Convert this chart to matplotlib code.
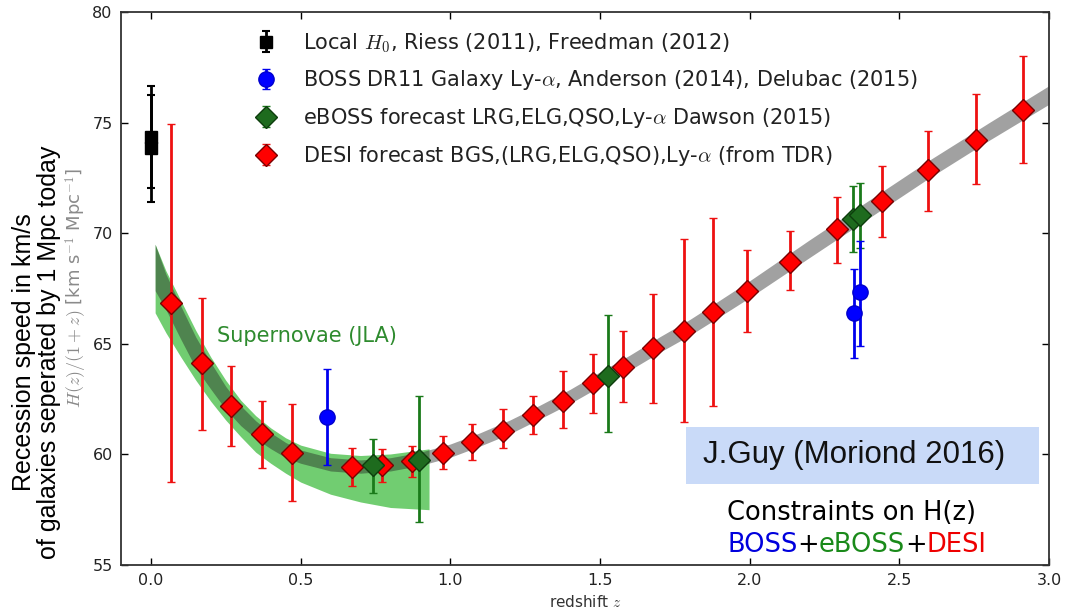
import numpy as np
import matplotlib
matplotlib.use('Agg')
import matplotlib.pyplot as plt
from matplotlib.patches import Rectangle

plt.rcParams['mathtext.fontset'] = 'cm'
plt.rcParams['font.family'] = ['DejaVu Sans']

# --- data ---
# local H0 (Riess 2011, Freedman 2012)
h0_z = [0.0, 0.0]
h0_val = [73.83, 74.37]
h0_lo = [71.4, 72.05]
h0_hi = [76.25, 76.65]

# BOSS DR11
boss_z = [0.589, 2.35, 2.37]
boss_val = [61.7, 66.38, 67.33]
boss_lo = [59.5, 64.37, 64.92]
boss_hi = [63.85, 68.37, 69.65]

# eBOSS forecast
eboss_z = [0.741, 0.897, 1.528, 2.346, 2.368]
eboss_val = [59.5, 59.75, 63.54, 70.65, 70.82]
eboss_lo = [58.24, 56.96, 61.0, 69.17, 69.35]
eboss_hi = [60.7, 62.64, 66.3, 72.13, 72.28]

# DESI forecast
desi_z = [0.067, 0.170, 0.268, 0.370, 0.470, 0.673, 0.773, 0.871, 0.975, 1.074,
          1.175, 1.277, 1.376, 1.476, 1.578, 1.678, 1.781, 1.879, 1.990, 2.135,
          2.291, 2.441, 2.597, 2.755, 2.914]
desi_val = [66.85, 64.15, 62.2, 60.9, 60.05, 59.45, 59.5, 59.72, 60.06, 60.55,
            61.08, 61.78, 62.43, 63.24, 63.97, 64.8, 65.58, 66.42, 67.38, 68.71,
            70.17, 71.44, 72.86, 74.21, 75.57]
desi_lo = [58.77, 61.1, 60.4, 59.4, 57.9, 58.55, 58.74, 58.99, 59.34, 59.75,
           60.3, 60.9, 61.2, 61.86, 62.39, 62.33, 61.48, 62.19, 65.52, 67.43,
           68.66, 69.82, 71.02, 72.21, 73.19]
desi_hi = [74.94, 67.08, 64.0, 62.4, 62.3, 60.3, 60.25, 60.4, 60.83, 61.37,
           62.04, 62.63, 63.77, 64.54, 65.58, 67.25, 69.74, 70.67, 69.24, 70.11,
           71.62, 73.06, 74.64, 76.28, 78.01]

# LCDM band (grey)
band_z = [0.014, 0.05, 0.1, 0.15, 0.2, 0.25, 0.3, 0.35, 0.4, 0.45, 0.5, 0.6, 0.7,
          0.8, 0.9, 1.0, 1.1, 1.2, 1.3, 1.4, 1.5, 1.6, 1.7, 1.8, 1.9, 2.0, 2.2,
          2.4, 2.6, 2.8, 3.0]
band_lo = [67.4, 66.55, 65.2, 63.9, 62.95, 62.03, 61.3, 60.72, 60.26, 59.86, 59.6,
           59.25, 59.15, 59.25, 59.5, 59.87, 60.38, 60.94, 61.61, 62.3, 63.07,
           63.81, 64.62, 65.38, 66.23, 67.09, 68.9, 70.7, 72.5, 74.2, 75.83]
band_hi = [69.5, 68.15, 66.7, 65.3, 64.15, 63.07, 62.2, 61.52, 60.98, 60.54, 60.2,
           59.85, 59.75, 59.85, 60.1, 60.47, 60.98, 61.56, 62.23, 62.94, 63.73,
           64.49, 65.32, 66.1, 66.97, 67.85, 69.7, 71.5, 73.3, 75.0, 76.67]

# supernovae (JLA) band
sn_z = [0.014, 0.05, 0.1, 0.15, 0.2, 0.25, 0.3, 0.35, 0.4, 0.45, 0.5, 0.6, 0.7,
        0.8, 0.929]
sn_lo = [66.4, 65.5, 64.4, 63.35, 62.4, 61.55, 60.8, 60.1, 59.6, 59.15, 58.75,
         58.2, 57.85, 57.6, 57.5]
sn_hi = [69.5, 68.3, 66.95, 65.6, 64.4, 63.35, 62.45, 61.75, 61.2, 60.75, 60.42,
         60.05, 59.95, 60.02, 60.25]

labels = ['Local $H_0$, Riess (2011), Freedman (2012)',
          r'BOSS DR11 Galaxy Ly-$\alpha$, Anderson (2014), Delubac (2015)',
          r'eBOSS forecast LRG,ELG,QSO,Ly-$\alpha$ Dawson (2015)',
          r'DESI forecast BGS,(LRG,ELG,QSO),Ly-$\alpha$ (from TDR)']

x_ticks = [0.0, 0.5, 1.0, 1.5, 2.0, 2.5, 3.0]
y_ticks = [55, 60, 65, 70, 75, 80]


def yerr(val, lo, hi):
    val = np.array(val)
    return [val - np.array(lo), np.array(hi) - val]


fig = plt.figure(figsize=(10.74, 6.13), dpi=100)
ax = fig.add_axes([121 / 1074, 48 / 613, 928 / 1074, 553 / 613])

ax.fill_between(sn_z, sn_lo, sn_hi, color='#62c862', alpha=0.9, lw=0, zorder=1)
ax.fill_between(band_z, band_lo, band_hi, color='#202020', alpha=0.42, lw=0, zorder=2)

err_kw = dict(capsize=3, capthick=1.5, elinewidth=2, ms=11, zorder=5)

h_black = ax.errorbar(h0_z[:1], h0_val[:1], yerr=yerr(h0_val[:1], h0_lo[:1], h0_hi[:1]),
                      fmt='s', color='black', mfc='black', mec='black',
                      **{**err_kw, 'ms': 9})
ax.errorbar(h0_z[1:], h0_val[1:], yerr=yerr(h0_val[1:], h0_lo[1:], h0_hi[1:]),
            fmt='s', color='black', mfc='black', mec='black', **{**err_kw, 'ms': 9})
h_desi = ax.errorbar(desi_z, desi_val, yerr=yerr(desi_val, desi_lo, desi_hi),
                     fmt='D', color='#ee1111', mfc='#ff0000', mec='#7a0000', mew=1,
                     **err_kw)
h_eboss = ax.errorbar(eboss_z, eboss_val, yerr=yerr(eboss_val, eboss_lo, eboss_hi),
                      fmt='D', color='#1a7a1a', mfc='#1e6b1e', mec='#0d3d0d', mew=1,
                      **err_kw)
h_boss = ax.errorbar(boss_z, boss_val, yerr=yerr(boss_val, boss_lo, boss_hi),
                     fmt='o', color='#0000ee', mfc='#0000ff', mec='#0000cc', mew=1,
                     **err_kw)

ax.set_xlim(-0.1, 3.0)
ax.set_ylim(55, 80)
ax.set_xticks(x_ticks)
ax.set_yticks(y_ticks)
ax.set_xticklabels(['%.1f' % v for v in x_ticks])
ax.tick_params(direction='in', top=True, right=True, length=5, width=1,
               labelsize=11.5, labelcolor='#222222', pad=6)
for sp in ax.spines.values():
    sp.set_linewidth(1.3)
    sp.set_color('#333333')
ax.set_xlabel('redshift $z$', fontsize=11, color='#333333', labelpad=4)

ax.legend([h_black, h_boss, h_eboss, h_desi], labels, loc='upper left',
          bbox_to_anchor=((245 - 121) / 928, (565 - 31) / 553), frameon=False,
          fontsize=15, numpoints=1, borderpad=0, borderaxespad=0,
          handlelength=2, handletextpad=0.8, labelspacing=0.66,
          labelcolor='#222222')

ax.text(0.221, 65.35, 'Supernovae (JLA)', color='#2e8b2e', fontsize=15, va='center')

# y labels
fig.text(24 / 1074, 1 - 352 / 613, 'Recession speed in km/s', rotation=90,
         ha='center', va='center', fontsize=18, family='Liberation Sans')
fig.text(49 / 1074, 1 - 352 / 613, 'of galaxies seperated by 1 Mpc today', rotation=90,
         ha='center', va='center', fontsize=18, family='Liberation Sans')
fig.text(76 / 1074, 1 - 288 / 613, r'$H(z)/(1+z)$ [km s$^{-1}$ Mpc$^{-1}$]', rotation=90,
         ha='center', va='center', fontsize=13, color='#8a8a8a')

# annotation box
fig.patches.append(Rectangle((686 / 1074, 1 - 484 / 613), 353 / 1074, 57 / 613,
                             transform=fig.transFigure, facecolor='#c9daf8',
                             edgecolor='none', zorder=0))
fig.text(703 / 1074, 1 - 455 / 613, 'J.Guy (Moriond 2016)', fontsize=22.5,
         family='Liberation Sans', va='center', ha='left', color='#111111')

fig.text(727 / 1074, 1 - 513 / 613, 'Constraints on H(z)', fontsize=18.5,
         va='center', ha='left', color='black')

parts = ['BOSS', '+', 'eBOSS', '+', 'DESI']
part_colors = ['#0000dd', 'black', '#1a8a1a', 'black', '#ee0000']
fig.canvas.draw()
renderer = fig.canvas.get_renderer()
x = 727 / 1074
for word, col in zip(parts, part_colors):
    t = fig.text(x, 1 - 545 / 613, word, fontsize=18.5, va='center', ha='left', color=col)
    bb = t.get_window_extent(renderer)
    x = bb.x1 / fig.bbox.width

fig.savefig('out.png', dpi=100)
